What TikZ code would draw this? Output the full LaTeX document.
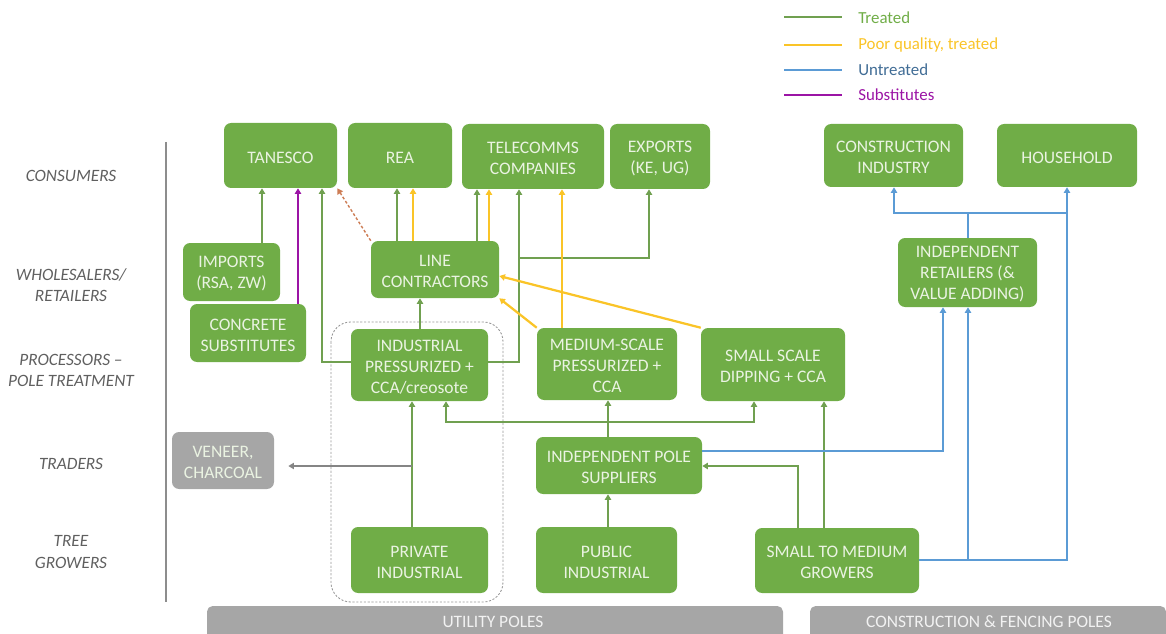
\documentclass[tikz,border=0pt]{standalone}
\usepackage{fontspec}
\setmainfont{Carlito}
\usetikzlibrary{arrows.meta,fit}
\definecolor{ChainGreen}{RGB}{112,173,71}
\definecolor{ChainText}{RGB}{234,243,226}
\definecolor{LinkGreen}{RGB}{112,160,80}
\definecolor{LinkGold}{RGB}{250,196,40}
\definecolor{LinkBlue}{RGB}{91,155,213}
\definecolor{LinkPurple}{RGB}{155,20,165}
\definecolor{LinkBrown}{RGB}{205,125,85}
\definecolor{ChainGray}{RGB}{166,166,166}
\definecolor{LabelGray}{RGB}{95,95,95}

\tikzset{
  boxtext/.style={align=center, text=ChainText, inner sep=0pt, yshift=-1.4pt,
    font=\fontsize{12.5}{15}\selectfont},
  box/.style={fill=ChainGreen, rounded corners=5pt, inner sep=0pt,
    label={[boxtext]center:#1}},
  graybox/.style={box={#1}, fill=ChainGray},
  rowlabel/.style={align=center, text=LabelGray, font=\fontsize{12.3}{15}\selectfont\itshape},
  legendtext/.style={anchor=west, inner sep=0pt, font=\fontsize{12}{14}\selectfont},
  bartext/.style={text=white!95!black, font=\fontsize{12.4}{14}\selectfont},
  treated/.style={draw=LinkGreen, line width=1.4pt},
  poor/.style={draw=LinkGold, line width=1.6pt},
  untreated/.style={draw=LinkBlue, line width=1.4pt},
  subst/.style={draw=LinkPurple, line width=2pt},
  sideline/.style={draw=ChainGray!80!black, line width=1pt},
  dashedlink/.style={draw=LinkBrown, line width=1pt, dash pattern=on 2pt off 1.5pt},
}

\begin{document}
\begin{tikzpicture}[x=0.25mm, y=-0.25mm, >={Triangle[width=4.5pt,length=4pt]}]
\useasboundingbox (0,0) rectangle (1166,634); % page = reference size in px

% legend
\draw[treated] (784,17) -- (842,17);
\draw[poor] (784,45) -- (842,45);
\draw[untreated] (784,70) -- (842,70);
\draw[subst, line width=1.4pt] (784,95) -- (842,95);
\node[legendtext, text=ChainGreen] (legtreated) at (858,18) {Treated};
\node[legendtext, text=LinkGold] (legpoor) at (858,45) {Poor quality, treated};
\node[legendtext, text=LinkBlue!70!black] (leguntreated) at (858,70) {Untreated};
\node[legendtext, text=LinkPurple] (legsubst) at (858,95) {Substitutes};

% row labels and separator
\node[rowlabel] (rconsumers) at (71,176) {CONSUMERS};
\node[rowlabel] (rwholesale) at (71,285) {WHOLESALERS/\\RETAILERS};
\node[rowlabel] (rprocess) at (71,370) {PROCESSORS --\\POLE TREATMENT};
\node[rowlabel] (rtraders) at (71,464) {TRADERS};
\node[rowlabel] (rgrowers) at (71,552) {TREE\\GROWERS};
\draw[draw=ChainGray!85!black, line width=0.8pt] (166,142) -- (166,602);

% grouping of private growers and industrial treatment
\draw[draw=ChainGray!90!black, line width=0.6pt, dash pattern=on 1.5pt off 1.2pt, rounded corners=14pt]
  (331,322) rectangle (503,602);

% consumers
\node[box={TANESCO}, fit={(224,123) (337,188)}] (tanesco) {};
\node[box={REA}, fit={(348,123) (452,188)}] (rea) {};
\node[box={TELECOMMS\\COMPANIES}, fit={(462,124) (604,189)}] (telecom) {};
\node[box={EXPORTS\\(KE, UG)}, fit={(610,124) (710,189)}] (exports) {};
\node[box={CONSTRUCTION\\INDUSTRY}, fit={(824,124) (963,187)}] (constr) {};
\node[box={HOUSEHOLD}, fit={(997,124) (1137,187)}] (household) {};

% wholesalers / retailers
\node[box={IMPORTS\\(RSA, ZW)}, fit={(183,243) (280,301)}] (imports) {};
\node[box={LINE\\CONTRACTORS}, fit={(371,241) (499,298)}] (linecon) {};
\node[box={INDEPENDENT\\RETAILERS (\&\\VALUE ADDING)}, fit={(898,238) (1037,307)}] (retail) {};

% processors
\node[box={CONCRETE\\SUBSTITUTES}, fit={(190,304) (306,362)}] (concrete) {};
\node[box={INDUSTRIAL\\PRESSURIZED +\\CCA/creosote}, fit={(351,329) (488,401)}] (indpress) {};
\node[box={MEDIUM-SCALE\\PRESSURIZED +\\CCA}, fit={(537,328) (677,400)}] (medium) {};
\node[box={SMALL SCALE\\DIPPING + CCA}, fit={(701,328) (845,401)}] (small) {};

% traders
\node[graybox={VENEER,\\CHARCOAL}, fit={(172,432) (274,489)}] (veneer) {};
\node[box={INDEPENDENT POLE\\SUPPLIERS}, fit={(536,437) (702,494)}] (polesup) {};

% tree growers
\node[box={PRIVATE\\INDUSTRIAL}, fit={(351,527) (488,593)}] (private) {};
\node[box={PUBLIC\\INDUSTRIAL}, fit={(536,527) (677,593)}] (public) {};
\node[box={SMALL TO MEDIUM\\GROWERS}, fit={(755,528) (919,593)}] (growers) {};

% pole type bars
\fill[ChainGray] (207,634) [rounded corners=4pt] -- (207,606) -- (783,606) [sharp corners] -- (783,634) -- cycle;
\fill[ChainGray] (810,634) [rounded corners=4pt] -- (810,606) -- (1166,606) [sharp corners] -- (1166,634) -- cycle;
\node[bartext] (utility) at (493,622) {UTILITY POLES};
\node[bartext] (fencing) at (989,622) {CONSTRUCTION \& FENCING POLES};

% links into consumers
\draw[treated,->] (imports.north -| 262,0) -- (tanesco.south -| 262,0);
\draw[subst,->] (concrete.north -| 298,0) -- (tanesco.south -| 298,0);
\draw[treated,->] (indpress.west |- 0,362) -| (tanesco.south -| 322,0);
\draw[dashedlink,->] (linecon.north west) -- (tanesco.south east);
\draw[treated,->] (linecon.north -| 397,0) -- (rea.south -| 397,0);
\draw[poor,->] (linecon.north -| 413,0) -- (rea.south -| 413,0);
\draw[treated,->] (linecon.north -| 477,0) -- (telecom.south -| 477,0);
\draw[poor,->] (linecon.north -| 489,0) -- (telecom.south -| 489,0);
\draw[treated,->] (indpress.east |- 0,362) -| (telecom.south -| 519,0);
\coordinate (expbranch) at (519,258);
\draw[treated,->] (expbranch) -| (exports.south -| 649,0);
\draw[poor,->] (medium.north -| 562,0) -- (telecom.south -| 562,0);

% links into line contractors
\draw[treated,->] (indpress.north -| 420,0) -- (linecon.south -| 420,0);
\draw[poor,->] (medium.north west) -- (linecon.south east);
\draw[poor,->] (small.north west) -- (linecon.east |- 0,276);

% growers and suppliers to processors
\draw[treated,->] (private.north -| 412,0) -- (indpress.south -| 412,0);
\coordinate (venbranch) at (412,466);
\draw[sideline,->, shorten >=10pt] (venbranch) -- (veneer.east |- venbranch);
\draw[treated,->] (polesup.north -| 608,0) -- (medium.south -| 608,0);
\draw[treated,<->] (indpress.south -| 446,0) -- ++(0,21) -| (small.south -| 754,0);
\draw[treated,->] (public.north -| 608,0) -- (polesup.south -| 608,0);
\draw[treated,->] (growers.north -| 798,0) |- (polesup.east |- 0,466);
\draw[treated,->] (growers.north -| 824,0) -- (small.south -| 824,0);

% untreated poles
\draw[untreated,->] (polesup.east |- 0,451) -| (retail.south -| 943,0);
\draw[untreated,->] (growers.east |- 0,560) -| (household.south -| 1067,0);
\coordinate (grobranch) at (968,560);
\draw[untreated,->] (grobranch) -- (retail.south -| grobranch);
\coordinate (retbranch) at (968,213);
\draw[untreated] (retail.north -| retbranch) -- (retbranch) -- (retbranch -| household.south);
\draw[untreated,->] (retbranch) -| (constr.south -| 894,0);

\end{tikzpicture}
\end{document}
